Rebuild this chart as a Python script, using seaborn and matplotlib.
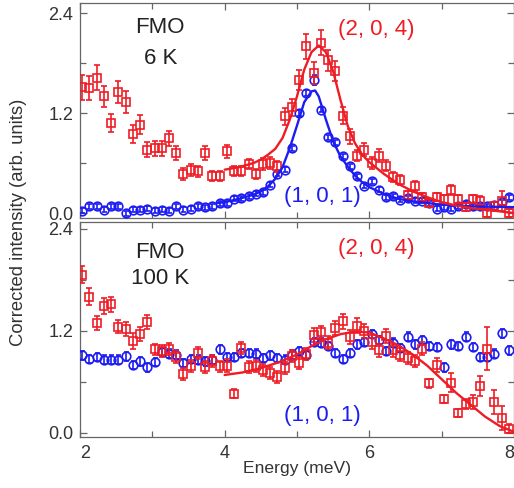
import numpy as np
import pandas as pd
import matplotlib
matplotlib.use('Agg')
import matplotlib.pyplot as plt
from matplotlib.ticker import FixedLocator
import seaborn as sns

# energy grid of the measured points (meV)
energy = [2.03, 2.13, 2.23, 2.33, 2.43, 2.53, 2.63, 2.73, 2.83, 2.93,
          3.03, 3.13, 3.23, 3.33, 3.43, 3.53, 3.63, 3.73, 3.83, 3.93,
          4.03, 4.13, 4.23, 4.33, 4.43, 4.53, 4.63, 4.73, 4.83, 4.93,
          5.03, 5.13, 5.23, 5.33, 5.43, 5.53, 5.63, 5.73, 5.83, 5.93,
          6.03, 6.13, 6.23, 6.33, 6.43, 6.53, 6.63, 6.73, 6.83, 6.93,
          7.03, 7.13, 7.23, 7.33, 7.43, 7.53, 7.63, 7.73, 7.83, 7.93]

# 6 K, (2, 0, 4)
red_6k = [1.51, 1.50, 1.62, 1.40, 1.08, 1.45, 1.33, 0.95, 1.06, 0.76,
          0.78, 0.78, 0.90, 0.72, 0.47, 0.52, 0.50, 0.72, 0.45, 0.45,
          0.74, 0.51, 0.51, 0.59, 0.47, 0.59, 0.60, 0.56, 1.16, 1.27,
          1.60, 2.00, 1.68, 2.04, 1.83, 1.70, 1.17, 0.92, 0.69, 0.76,
          0.60, 0.69, 0.57, 0.43, 0.40, 0.22, 0.32, 0.19, 0.12, 0.19,
          0.17, 0.28, 0.17, 0.07, 0.17, 0.15, 0.00, 0.08, 0.14, 0.00]
red_6k_err = [0.15, 0.15, 0.15, 0.13, 0.11, 0.13, 0.13, 0.11, 0.11, 0.09,
              0.09, 0.09, 0.09, 0.08, 0.07, 0.07, 0.07, 0.08, 0.06, 0.06,
              0.08, 0.06, 0.06, 0.06, 0.06, 0.07, 0.07, 0.07, 0.10, 0.10,
              0.12, 0.15, 0.13, 0.15, 0.13, 0.12, 0.10, 0.09, 0.07, 0.08,
              0.07, 0.08, 0.07, 0.06, 0.06, 0.05, 0.06, 0.05, 0.05, 0.05,
              0.05, 0.06, 0.05, 0.05, 0.05, 0.05, 0.05, 0.05, 0.12, 0.05]

# 6 K, (1, 0, 1)
blue_6k = [0.03, 0.08, 0.08, 0.04, 0.08, 0.08, 0.00, 0.04, 0.04, 0.05,
           0.03, 0.04, 0.03, 0.08, 0.04, 0.05, 0.08, 0.07, 0.08, 0.12,
           0.12, 0.17, 0.18, 0.20, 0.23, 0.25, 0.34, 0.47, 0.52, 0.78,
           1.20, 1.44, 1.60, 1.24, 0.91, 0.85, 0.68, 0.56, 0.44, 0.33,
           0.38, 0.28, 0.19, 0.20, 0.16, 0.18, 0.15, 0.15, 0.12, 0.05,
           0.07, 0.05, 0.08, 0.11, 0.08, 0.09, 0.08, 0.10, 0.13, 0.19]
blue_6k_err = [0.03] * 32 + [0.06] + [0.03] * 27

fit_red_6k_e = [4.0, 4.2, 4.4, 4.5, 4.6, 4.7, 4.8, 4.9, 5.0, 5.1, 5.2, 5.3,
                5.4, 5.5, 5.6, 5.7, 5.8, 5.9, 6.0, 6.2, 6.4, 6.6, 6.8, 7.0,
                7.2, 7.4, 7.6, 7.8, 8.0]
fit_red_6k = [0.52, 0.55, 0.60, 0.64, 0.70, 0.77, 0.90, 1.12, 1.40, 1.72, 1.93, 2.01,
              1.93, 1.70, 1.36, 1.05, 0.84, 0.70, 0.61, 0.47, 0.35, 0.26, 0.19, 0.13,
              0.09, 0.06, 0.04, 0.02, 0.00]

fit_blue_6k_e = [3.9, 4.0, 4.2, 4.4, 4.5, 4.6, 4.7, 4.8, 4.9, 5.0, 5.1, 5.2,
                 5.25, 5.3, 5.4, 5.5, 5.6, 5.7, 5.8, 5.9, 6.0, 6.2, 6.4, 6.6,
                 6.8, 7.0, 7.4, 8.0]
fit_blue_6k = [0.12, 0.13, 0.17, 0.22, 0.26, 0.32, 0.41, 0.55, 0.78, 1.05, 1.33, 1.46,
               1.47, 1.40, 1.12, 0.86, 0.68, 0.56, 0.45, 0.37, 0.31, 0.23, 0.17, 0.14,
               0.12, 0.10, 0.08, 0.07]

# 100 K, (2, 0, 4)
red_100k = [1.86, 1.60, 1.29, 1.49, 1.51, 1.25, 1.22, 1.08, 1.16, 1.30,
            0.98, 0.96, 0.99, 0.89, 0.69, 0.79, 0.94, 0.77, 0.84, 0.78,
            0.79, 0.46, 1.00, 0.77, 0.79, 0.74, 0.70, 0.66, 0.76, 0.90,
            0.82, 0.93, 1.15, 1.18, 1.06, 1.23, 1.31, 1.13, 1.26, 1.20,
            1.07, 0.97, 1.14, 0.97, 0.92, 0.88, 0.84, 0.99, 0.58, 0.80,
            0.40, 0.59, 0.23, 0.34, 0.36, 0.55, 0.99, 0.36, 0.17, 0.05]
red_100k_err = [0.10, 0.10, 0.08, 0.09, 0.09, 0.08, 0.08, 0.09, 0.08, 0.08,
                0.07, 0.07, 0.07, 0.07, 0.07, 0.07, 0.07, 0.07, 0.07, 0.07,
                0.08, 0.05, 0.07, 0.07, 0.07, 0.07, 0.07, 0.07, 0.07, 0.07,
                0.07, 0.07, 0.08, 0.08, 0.08, 0.08, 0.09, 0.08, 0.09, 0.08,
                0.08, 0.08, 0.08, 0.08, 0.08, 0.07, 0.07, 0.08, 0.05, 0.08,
                0.05, 0.11, 0.05, 0.06, 0.08, 0.12, 0.25, 0.14, 0.14, 0.05]

# 100 K, (1, 0, 1)
blue_100k = [0.91, 0.87, 0.89, 0.86, 0.86, 0.86, 0.90, 0.80, 0.84, 0.77,
             0.83, 0.95, 0.93, 0.92, 0.82, 0.87, 0.86, 0.84, 0.86, 0.98,
             0.89, 0.89, 0.94, 0.94, 0.93, 0.88, 0.91, 0.88, 0.86, 0.92,
             0.96, 0.92, 1.07, 1.06, 1.02, 0.94, 0.87, 0.94, 1.04, 1.07,
             1.16, 1.09, 0.96, 1.06, 1.00, 1.13, 1.04, 1.09, 1.02, 1.01,
             0.77, 1.04, 1.02, 1.13, 1.01, 0.89, 0.89, 0.93, 1.17, 0.97]
blue_100k_err = [0.05] * 60

fit_red_100k_e = [4.0, 4.25, 4.5, 4.75, 5.0, 5.2, 5.4, 5.6, 5.8, 6.0,
                  6.2, 6.4, 6.6, 6.8, 7.0, 7.2, 7.4, 7.6, 7.8, 8.0]
fit_red_100k = [0.68, 0.71, 0.76, 0.83, 0.92, 1.02, 1.10, 1.16, 1.19, 1.18,
                1.11, 1.03, 0.92, 0.79, 0.63, 0.47, 0.33, 0.19, 0.08, 0.01]

xticks = [2, 4, 6, 8]
xtick_labels = ['2', '4', '6', '8']
yticks = [0, 1.2, 2.4]
ytick_labels = ['0.0', '1.2', '2.4']

RED = '#ee1c24'
BLUE = '#1c1cf2'
FRAME = '#666666'

sns.set_theme(style='ticks')
plt.rcParams['font.family'] = ['Liberation Sans', 'DejaVu Sans']
plt.rcParams['axes.edgecolor'] = FRAME
plt.rcParams['axes.linewidth'] = 0.9

fig = plt.figure(figsize=(5.14, 4.88), dpi=100)
W, H = 514, 488
ax1 = fig.add_axes([80 / W, 1 - 218 / H, 434 / W, 215 / H])
ax2 = fig.add_axes([80 / W, 1 - 437 / H, 434 / W, 215 / H])

panels = [
    (ax1, red_6k, red_6k_err, blue_6k, blue_6k_err, '6 K', (-0.06, 2.52), 0.884, 0.74),
    (ax2, red_100k, red_100k_err, blue_100k, blue_100k_err, '100 K', (-0.05, 2.48), 0.856, 0.737),
]

for ax, red, red_err, blue, blue_err, temp, ylim, y_fmo, y_temp in panels:
    ax.errorbar(energy, blue, yerr=blue_err, fmt='o', ms=6.2, mfc='none',
                mec=BLUE, mew=1.2, ecolor=BLUE, elinewidth=1.2,
                capsize=1.8, capthick=1.2, zorder=3)
    ax.errorbar(energy, red, yerr=red_err, fmt='s', ms=5.2, mfc='none',
                mec=RED, mew=1.2, ecolor=RED, elinewidth=1.2,
                capsize=2, capthick=1.2, zorder=4)

    ax.set_xlim(2, 8)
    ax.set_ylim(*ylim)
    ax.xaxis.set_major_locator(FixedLocator(xticks))
    ax.xaxis.set_minor_locator(FixedLocator([3, 5, 7]))
    ax.yaxis.set_major_locator(FixedLocator(yticks))
    ax.yaxis.set_minor_locator(FixedLocator([0.6, 1.8]))
    ax.set_xticklabels(xtick_labels)
    ax.set_yticklabels(ytick_labels)
    ax.tick_params(which='both', direction='in', top=True, right=True,
                   color=FRAME, width=0.9, labelsize=13, labelcolor='#333333')
    ax.tick_params(axis='y', pad=5)
    ax.tick_params(axis='x', pad=6)
    ax.tick_params(which='major', length=5)
    ax.tick_params(which='minor', length=4)

    ax.text(0.183, y_fmo, 'FMO', transform=ax.transAxes,
            ha='center', va='center', fontsize=16, color='#222222')
    ax.text(0.185, y_temp, temp, transform=ax.transAxes,
            ha='center', va='center', fontsize=16, color='#222222')
    ax.text(0.682, 0.879, '(2, 0, 4)', transform=ax.transAxes,
            ha='center', va='center', fontsize=16, color=RED)
    ax.text(0.558, 0.102, '(1, 0, 1)', transform=ax.transAxes,
            ha='center', va='center', fontsize=16, color=BLUE)

fits_6k = pd.DataFrame({'E': fit_red_6k_e, 'I': fit_red_6k})
fits_6k_b = pd.DataFrame({'E': fit_blue_6k_e, 'I': fit_blue_6k})
fits_100k = pd.DataFrame({'E': fit_red_100k_e, 'I': fit_red_100k})
sns.lineplot(data=fits_6k_b, x='E', y='I', ax=ax1, color=BLUE, lw=1.7, zorder=5)
sns.lineplot(data=fits_6k, x='E', y='I', ax=ax1, color=RED, lw=1.7, zorder=5)
sns.lineplot(data=fits_100k, x='E', y='I', ax=ax2, color=RED, lw=1.7, zorder=5)
for ax in (ax1, ax2):
    ax.set_xlabel('')
    ax.set_ylabel('')

ax1.tick_params(labelbottom=False)
labels = ax2.get_xticklabels()
labels[0].set_horizontalalignment('left')
labels[-1].set_horizontalalignment('right')

fig.text(297 / W, 1 - 469 / H, 'Energy (meV)', ha='center', va='center',
         fontsize=12.6, color='#333333')
fig.text(19 / W, 1 - 222 / H, 'Corrected intensity (arb. units)', ha='center',
         va='center', rotation=90, fontsize=13.3, color='#333333')

fig.savefig('out.png', dpi=100)
